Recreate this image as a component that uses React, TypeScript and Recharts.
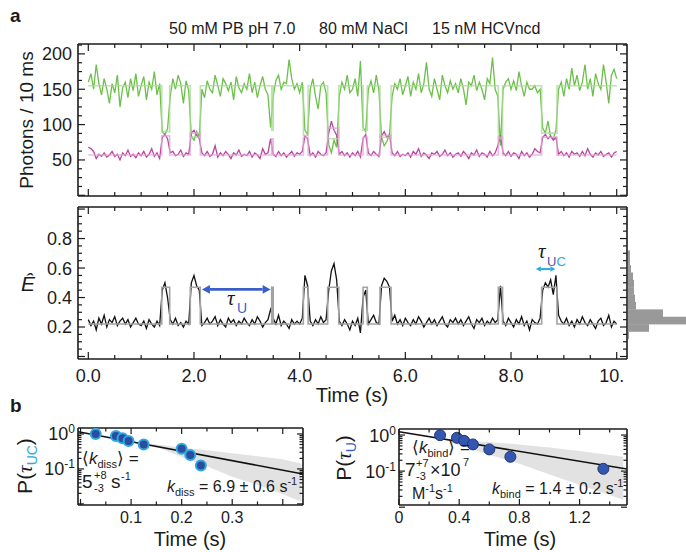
import React from 'react';
import {
  LineChart,
  Line,
  XAxis,
  YAxis,
  ComposedChart,
  Area,
  Scatter,
  BarChart,
  Bar,
  ReferenceLine,
} from 'recharts';

const FONT = '"Liberation Sans", Arial, Helvetica, sans-serif';
const SERIF = '"Liberation Serif", "DejaVu Serif", serif';
const INK = '#1b1b1b';

// ---------- panel a: traces (read every 50 ms) ----------
const DT = 0.05;
const green = [
  160, 172, 150, 185, 158, 142, 165, 150, 130, 158, 145, 170, 125, 152, 160, 138, 165, 148, 172, 140,
  155, 168, 135, 160, 150, 175, 142, 158, 90, 86, 94, 140, 165, 150, 170, 158, 130, 162, 148, 84,
  78, 90, 82, 150, 138, 162, 150, 145, 170, 155, 140, 165, 158, 148, 160, 135, 168, 152, 145, 158,
  150, 172, 145, 160, 138, 155, 168, 150, 142, 96, 140, 162, 170, 150, 160, 158, 192, 165, 150, 158,
  145, 160, 92, 86, 150, 165, 140, 122, 155, 160, 145, 72, 60, 78, 68, 140, 160, 150, 170, 145,
  150, 165, 140, 190, 96, 90, 150, 162, 145, 170, 148, 82, 70, 76, 86, 140, 158, 150, 165, 142,
  155, 168, 140, 160, 150, 172, 145, 158, 188, 150, 140, 165, 150, 135, 170, 155, 145, 162, 150, 158,
  145, 165, 150, 128, 160, 155, 170, 148, 160, 150, 135, 165, 158, 195, 150, 140, 70, 150, 160, 165,
  150, 162, 148, 175, 155, 140, 160, 150, 150, 155, 145, 150, 95, 88, 105, 82, 80, 92, 150, 160,
  140, 165, 150, 180, 155, 170, 148, 160, 185, 150, 165, 140, 172, 158, 150, 185, 160, 130, 170, 178, 165,
];
const magenta = [
  68, 66, 62, 52, 58, 55, 60, 54, 57, 62, 55, 58, 50, 60, 56, 64, 55, 58, 53, 60,
  56, 62, 54, 58, 66, 55, 60, 52, 82, 86, 80, 60, 62, 56, 58, 64, 55, 60, 58, 88,
  92, 85, 80, 60, 56, 62, 55, 58, 70, 54, 60, 56, 62, 58, 52, 60, 57, 64, 55, 58,
  56, 62, 54, 60, 57, 52, 66, 58, 60, 80, 58, 55, 62, 56, 60, 54, 58, 62, 55, 60,
  58, 62, 84, 80, 56, 60, 54, 62, 58, 56, 60, 88, 105, 92, 85, 58, 62, 56, 60, 54,
  60, 56, 62, 54, 80, 86, 60, 56, 62, 58, 55, 84, 90, 82, 86, 60, 56, 62, 55, 58,
  56, 60, 54, 62, 58, 66, 55, 60, 57, 52, 60, 58, 62, 55, 58, 64, 56, 60, 54, 58,
  60, 55, 62, 58, 52, 60, 57, 64, 55, 60, 58, 54, 62, 56, 60, 70, 85, 60, 56, 62,
  55, 60, 58, 52, 62, 56, 60, 54, 58, 66, 62, 60, 82, 86, 80, 84, 78, 82, 58, 62,
  56, 60, 54, 62, 58, 60, 55, 62, 56, 66, 58, 54, 60, 57, 62, 55, 58, 60, 54, 60, 62,
];
const fret = [
  0.25, 0.21, 0.24, 0.18, 0.26, 0.22, 0.28, 0.2, 0.25, 0.23, 0.27, 0.21, 0.24, 0.26, 0.22, 0.25, 0.2, 0.23, 0.26, 0.22,
  0.21, 0.24, 0.19, 0.25, 0.22, 0.2, 0.24, 0.21, 0.45, 0.5, 0.4, 0.25, 0.22, 0.26, 0.21, 0.23, 0.2, 0.24, 0.22, 0.5,
  0.55, 0.48, 0.45, 0.21, 0.23, 0.26, 0.22, 0.24, 0.27, 0.21, 0.25, 0.22, 0.2, 0.26, 0.23, 0.25, 0.21, 0.24, 0.22, 0.26,
  0.23, 0.21, 0.25, 0.22, 0.27, 0.24, 0.2, 0.23, 0.25, 0.32, 0.26, 0.22, 0.28, 0.21, 0.24, 0.22, 0.19, 0.25, 0.22, 0.24,
  0.22, 0.26, 0.55, 0.48, 0.24, 0.21, 0.25, 0.22, 0.27, 0.23, 0.25, 0.45, 0.58, 0.63, 0.52, 0.24, 0.21, 0.25, 0.22, 0.18,
  0.24, 0.21, 0.26, 0.16, 0.4, 0.45, 0.22, 0.25, 0.28, 0.23, 0.22, 0.48, 0.53, 0.51, 0.47, 0.24, 0.28, 0.22, 0.25, 0.21,
  0.26, 0.23, 0.21, 0.25, 0.22, 0.27, 0.24, 0.2, 0.23, 0.26, 0.22, 0.25, 0.21, 0.24, 0.27, 0.22, 0.2, 0.25, 0.23, 0.26,
  0.22, 0.25, 0.21, 0.24, 0.27, 0.22, 0.19, 0.25, 0.23, 0.26, 0.21, 0.24, 0.22, 0.26, 0.23, 0.25, 0.48, 0.24, 0.21, 0.26,
  0.23, 0.2, 0.25, 0.22, 0.27, 0.21, 0.24, 0.18, 0.25, 0.23, 0.22, 0.26, 0.45, 0.5, 0.47, 0.52, 0.42, 0.55, 0.28, 0.24,
  0.22, 0.26, 0.21, 0.24, 0.2, 0.25, 0.22, 0.27, 0.23, 0.21, 0.25, 0.22, 0.19, 0.24, 0.26, 0.21, 0.23, 0.28, 0.2, 0.24, 0.22,
];

// HMM-like state levels
const eventStart = [1.39, 1.93, 3.47, 4.07, 4.53, 5.2, 5.52, 7.76, 8.58];
const eventEnd = [1.54, 2.12, 3.5, 4.16, 4.74, 5.28, 5.73, 7.84, 8.87];
const greenLow = [90, 82, 92, 85, 80, 92, 82, 80, 88];
const magentaHigh = [84, 88, 80, 82, 95, 82, 85, 82, 82];
const fretHigh = [0.47, 0.47, 0.47, 0.47, 0.47, 0.47, 0.47, 0.47, 0.47];
const GREEN_BASE = 155;
const MAG_BASE = 57;
const FRET_BASE = 0.22;

// histogram of E
const histE = [0.145, 0.195, 0.245, 0.295, 0.345, 0.395, 0.445, 0.495, 0.545, 0.595, 0.645, 0.695];
const histN = [1, 21, 75, 35, 8, 7, 6, 6, 5, 3, 2, 2];
const HIST_BIN = 0.05;

// ---------- panel b ----------
const ucT = [0.03, 0.07, 0.083, 0.095, 0.125, 0.2, 0.217, 0.238];
const ucP = [1.0, 0.875, 0.75, 0.625, 0.5, 0.375, 0.25, 0.125];
const ucFitT = [-0.005, 0.44];
const ucFitP = [1.15, 0.072];
const ucBandT = [0.1, 0.15, 0.2, 0.25, 0.3, 0.35, 0.4, 0.437];
const ucBandLo = [0.6, 0.43, 0.22, 0.12, 0.06, 0.035, 0.019, 0.0115];
const ucBandHi = [0.6, 0.5, 0.41, 0.34, 0.28, 0.23, 0.19, 0.14];

const uT = [0.273, 0.385, 0.433, 0.491, 0.6, 0.74, 1.358];
const uP = [0.99, 0.84, 0.69, 0.55, 0.4, 0.25, 0.116];
const uFitT = [0, 1.515];
const uFitP = [1.24, 0.114];
const uBandT = [0.27, 0.5, 0.8, 1.0, 1.2, 1.49];
const uBandLo = [0.81, 0.38, 0.16, 0.08, 0.042, 0.016];
const uBandHi = [0.81, 0.68, 0.55, 0.45, 0.36, 0.25];

// tick labels
const timeTickVals = [0, 2, 4, 6, 8, 10];
const timeTickText = ['0.0', '2.0', '4.0', '6.0', '8.0', '10.'];
const photonTickVals = [50, 100, 150, 200];
const photonTickText = ['50', '100', '150', '200'];
const fretTickVals = [0.2, 0.4, 0.6, 0.8];
const fretTickText = ['0.2', '0.4', '0.6', '0.8'];
const ucTickVals = [0.1, 0.2, 0.3];
const ucTickText = ['0.1', '0.2', '0.3'];
const uTickVals = [0, 0.4, 0.8, 1.2];
const uTickText = ['0', '0.4', '0.8', '1.2'];
const logTickVals = [1, 0.1];
const logTickExp = ['0', '-1'];

// ---------- helpers ----------
const range = (a: number, b: number, step: number) => {
  const out: number[] = [];
  for (let v = a; v <= b + 1e-9; v += step) out.push(Math.round(v * 1e6) / 1e6);
  return out;
};
const near = (arr: number[], v: number) => arr.findIndex((a) => Math.abs(a - v) < 1e-6);

type Side = 'left' | 'right' | 'top' | 'bottom';
type TickOpts = {
  side: Side;
  majors: number[];
  vals?: number[];
  texts?: React.ReactNode[];
  fs?: number;
  gap?: number;
  big?: number;
  small?: number;
};

function makeTick(o: TickOpts) {
  const { side, majors, vals = [], texts = [], fs = 18, gap = 6, big = 7, small = 4 } = o;
  return (props: any) => {
    const { x, y, payload } = props;
    const v = payload.value;
    const len = near(majors, v) >= 0 ? big : small;
    const idx = near(vals, v);
    const label = idx >= 0 ? texts[idx] : null;
    let line: React.ReactNode = null;
    let text: React.ReactNode = null;
    const tp = { fill: INK, stroke: 'none', fontSize: fs, fontFamily: FONT };
    if (side === 'left') {
      line = <line x1={x} y1={y} x2={x + len} y2={y} />;
      if (label != null)
        text = (
          <text {...tp} x={x - gap} y={y} dy="0.36em" textAnchor="end">
            {label}
          </text>
        );
    } else if (side === 'right') {
      line = <line x1={x} y1={y} x2={x - len} y2={y} />;
    } else if (side === 'top') {
      line = <line x1={x} y1={y} x2={x} y2={y + len} />;
    } else {
      line = <line x1={x} y1={y} x2={x} y2={y - len} />;
      if (label != null) {
        const cut = typeof label === 'string' && label.endsWith('.');
        text = (
          <text {...tp} x={cut ? x - fs * 0.973 : x} y={y + gap} textAnchor={cut ? 'start' : 'middle'}>
            {label}
          </text>
        );
      }
    }
    return (
      <g stroke={INK} strokeWidth={1.2}>
        {line}
        {text}
      </g>
    );
  };
}

const axisLine = { stroke: INK, strokeWidth: 1.6 };
const noTick = { tickLine: false, tickSize: 0, tickMargin: 0, interval: 0 as const, allowDataOverflow: true };

function Arrow(props: any) {
  const { x1, y1, x2, color, head, width } = props;
  const y = y1;
  const hw = head * 0.55;
  return (
    <g>
      <line x1={x1 + head} y1={y} x2={x2 - head} y2={y} stroke={color} strokeWidth={width} />
      <polygon points={`${x1},${y} ${x1 + head},${y - hw} ${x1 + head},${y + hw}`} fill={color} />
      <polygon points={`${x2},${y} ${x2 - head},${y - hw} ${x2 - head},${y + hw}`} fill={color} />
    </g>
  );
}

function stepRows(base: number, levels: number[]) {
  const rows = [{ t: 0, v: base }];
  eventStart.forEach((s, i) => {
    rows.push({ t: s, v: levels[i] });
    rows.push({ t: eventEnd[i], v: base });
  });
  rows.push({ t: 10, v: base });
  return rows;
}

// ---------- derived tables ----------
const traceRows = green.map((g, i) => ({ t: i * DT, g, m: magenta[i], e: fret[i] }));
const greenSteps = stepRows(GREEN_BASE, greenLow);
const magSteps = stepRows(MAG_BASE, magentaHigh);
const fretSteps = stepRows(FRET_BASE, fretHigh);
const histRows = histE.map((e, i) => ({ e, n: histN[i] }));

const ucPts = ucT.map((t, i) => ({ t, p: ucP[i] }));
const ucFit = ucFitT.map((t, i) => ({ t, p: ucFitP[i] }));
const ucBand = ucBandT.map((t, i) => ({ t, band: [ucBandLo[i], ucBandHi[i]] }));
const uPts = uT.map((t, i) => ({ t, p: uP[i] }));
const uFit = uFitT.map((t, i) => ({ t, p: uFitP[i] }));
const uBand = uBandT.map((t, i) => ({ t, band: [uBandLo[i], uBandHi[i]] }));

const T_DOM: [number, number] = [-0.195, 10.195];
const PH_DOM: [number, number] = [-1, 214];
const E_DOM: [number, number] = [-0.017, 1.014];
const E_PLOT_H = 152; // px height of the E plot area
const HIST_BAR_PX = (HIST_BIN / (E_DOM[1] - E_DOM[0])) * E_PLOT_H;
const timeTicks = range(0, 10, 0.5);
const timeMajors = range(0, 10, 2);
const photonTicks = range(0, 212.5, 12.5);
const photonMajors = range(0, 200, 50);
const fretTicks = range(0, 1, 0.05);
const fretMajors = range(0, 1, 0.2);
const logTicks = [...range(0.01, 0.09, 0.01), ...range(0.1, 0.9, 0.1), 1];
const logMajors = [0.01, 0.1, 1];
const logTexts = logTickExp.map((ex) => (
  <>
    10
    <tspan dy={-7} fontSize={12}>
      {ex}
    </tspan>
  </>
));

const abs = (left: number, top: number): React.CSSProperties => ({ position: 'absolute', left, top });

export default function App() {
  return (
    <div
      style={{
        position: 'absolute',
        left: 0,
        top: 0,
        width: 686,
        height: 552,
        overflow: 'hidden',
        background: '#fff',
        fontFamily: FONT,
      }}
    >
      {/* a: photon counts */}
      <div style={abs(0, 0)}>
        <LineChart width={686} height={200} data={traceRows} margin={{ top: 0, right: 0, bottom: 0, left: 0 }}>
          <XAxis dataKey="t" type="number" domain={T_DOM} ticks={timeTicks} height={4} axisLine={axisLine}
            tick={makeTick({ side: 'bottom', majors: timeMajors })} {...noTick} />
          <XAxis xAxisId="top" orientation="top" dataKey="t" type="number" domain={T_DOM} ticks={timeTicks} height={44}
            axisLine={axisLine} tick={makeTick({ side: 'top', majors: timeMajors })} {...noTick} />
          <YAxis type="number" domain={PH_DOM} ticks={photonTicks} width={78} axisLine={axisLine}
            tick={makeTick({ side: 'left', majors: photonMajors, vals: photonTickVals, texts: photonTickText, fs: 18, gap: 6 })}
            {...noTick} />
          <YAxis yAxisId="right" orientation="right" type="number" domain={PH_DOM} ticks={photonTicks} width={59}
            axisLine={axisLine} tick={makeTick({ side: 'right', majors: photonMajors })} {...noTick} />
          <Line dataKey="g" stroke="#6cc04a" strokeWidth={1.3} dot={false} activeDot={false} isAnimationActive={false} />
          <Line dataKey="m" stroke="#b6479f" strokeWidth={1.3} dot={false} activeDot={false} isAnimationActive={false} />
          <Line data={greenSteps} dataKey="v" type="stepAfter" stroke="#a9d995" strokeOpacity={0.75} strokeWidth={1.6}
            dot={false} activeDot={false} isAnimationActive={false} />
          <Line data={magSteps} dataKey="v" type="stepAfter" stroke="#e3a3d7" strokeOpacity={0.75} strokeWidth={1.6}
            dot={false} activeDot={false} isAnimationActive={false} />
        </LineChart>
      </div>

      {/* a: FRET efficiency */}
      <div style={abs(0, 200)}>
        <LineChart width={686} height={200} data={traceRows} margin={{ top: 0, right: 0, bottom: 0, left: 0 }}>
          <XAxis dataKey="t" type="number" domain={T_DOM} ticks={timeTicks} height={41} axisLine={axisLine}
            tick={makeTick({ side: 'bottom', majors: timeMajors, vals: timeTickVals, texts: timeTickText, fs: 18, gap: 23 })}
            {...noTick} />
          <XAxis xAxisId="top" orientation="top" dataKey="t" type="number" domain={T_DOM} ticks={timeTicks} height={7}
            axisLine={axisLine} tick={makeTick({ side: 'top', majors: timeMajors })} {...noTick} />
          <YAxis type="number" domain={E_DOM} ticks={fretTicks} width={78} axisLine={axisLine}
            tick={makeTick({ side: 'left', majors: fretMajors, vals: fretTickVals, texts: fretTickText, fs: 18, gap: 6 })}
            {...noTick} />
          <YAxis yAxisId="right" orientation="right" type="number" domain={E_DOM} ticks={fretTicks} width={59}
            axisLine={axisLine} tick={makeTick({ side: 'right', majors: fretMajors })} {...noTick} />
          <Line dataKey="e" stroke="#111" strokeWidth={1.3} dot={false} activeDot={false} isAnimationActive={false} />
          <Line data={fretSteps} dataKey="v" type="stepAfter" stroke="#a3a3a3" strokeWidth={1.6}
            dot={false} activeDot={false} isAnimationActive={false} />
          <ReferenceLine segment={[{ x: 2.15, y: 0.455 }, { x: 3.45, y: 0.455 }]}
            shape={(p: any) => <Arrow {...p} color="#3b5fc9" head={8} width={2.6} />} />
          <ReferenceLine segment={[{ x: 8.47, y: 0.593 }, { x: 8.84, y: 0.593 }]}
            shape={(p: any) => <Arrow {...p} color="#2ea9e0" head={5} width={2} />} />
        </LineChart>
      </div>

      {/* a: E histogram */}
      <div style={abs(627, 200)}>
        <BarChart width={80} height={200} data={histRows} layout="vertical"
          margin={{ top: 7, right: 0, bottom: 41, left: 1 }}>
          <XAxis type="number" hide domain={[0, 79]} allowDataOverflow />
          <YAxis type="number" dataKey="e" hide reversed domain={E_DOM} allowDataOverflow />
          <Bar dataKey="n" fill="#999999" isAnimationActive={false}
            shape={(p: any) => (
              <rect x={p.x} y={p.y + p.height / 2 - HIST_BAR_PX / 2} width={p.width} height={HIST_BAR_PX + 0.3}
                fill="#999999" />
            )} />
        </BarChart>
      </div>

      {/* b: dwell times in UC */}
      <div style={abs(0, 400)}>
        <ComposedChart width={340} height={152} margin={{ top: 0, right: 0, bottom: 0, left: 0 }}>
          <XAxis dataKey="t" type="number" domain={[-0.005, 0.44]} ticks={range(0, 0.4, 0.05)} height={47}
            axisLine={axisLine}
            tick={makeTick({ side: 'bottom', majors: range(0, 0.4, 0.1), vals: ucTickVals, texts: ucTickText, fs: 16, gap: 18, big: 6, small: 3.5 })}
            {...noTick} />
          <XAxis xAxisId="top" orientation="top" dataKey="t" type="number" domain={[-0.005, 0.44]}
            ticks={range(0, 0.4, 0.05)} height={28} axisLine={axisLine}
            tick={makeTick({ side: 'top', majors: range(0, 0.4, 0.1), big: 6, small: 3.5 })} {...noTick} />
          <YAxis type="number" scale="log" domain={[0.0093, 1.48]} ticks={logTicks} width={78} axisLine={axisLine}
            tick={makeTick({ side: 'left', majors: logMajors, vals: logTickVals, texts: logTexts, fs: 18, gap: 3, big: 6, small: 3.5 })}
            {...noTick} />
          <YAxis yAxisId="right" orientation="right" type="number" scale="log" domain={[0.0093, 1.48]} ticks={logTicks}
            width={37} axisLine={axisLine}
            tick={makeTick({ side: 'right', majors: logMajors, big: 6, small: 3.5 })} {...noTick} />
          <Area data={ucBand} dataKey="band" type="linear" stroke="none" fill="#e2e2e2" fillOpacity={1}
            isAnimationActive={false} activeDot={false} />
          <Line data={ucFit} dataKey="p" stroke="#111" strokeWidth={1.5} dot={false} activeDot={false}
            isAnimationActive={false} />
          <Scatter data={ucPts} dataKey="p" isAnimationActive={false}
            shape={(p: any) => <circle cx={p.cx} cy={p.cy} r={5} fill="#2b4c9f" stroke="#2ea9e0" strokeWidth={2} />} />
        </ComposedChart>
      </div>

      {/* b: dwell times in U */}
      <div style={abs(340, 400)}>
        <ComposedChart width={346} height={152} margin={{ top: 0, right: 0, bottom: 0, left: 0 }}>
          <XAxis dataKey="t" type="number" domain={[0, 1.515]} ticks={range(0, 1.4, 0.2)} height={47}
            axisLine={axisLine}
            tick={makeTick({ side: 'bottom', majors: uTickVals, vals: uTickVals, texts: uTickText, fs: 16, gap: 18, big: 6, small: 3.5 })}
            {...noTick} />
          <XAxis xAxisId="top" orientation="top" dataKey="t" type="number" domain={[0, 1.515]}
            ticks={range(0, 1.4, 0.2)} height={29} axisLine={axisLine}
            tick={makeTick({ side: 'top', majors: uTickVals, big: 6, small: 3.5 })} {...noTick} />
          <YAxis type="number" scale="log" domain={[0.0115, 1.47]} ticks={logTicks} width={59} axisLine={axisLine}
            tick={makeTick({ side: 'left', majors: logMajors, vals: logTickVals, texts: logTexts, fs: 18, gap: 3, big: 6, small: 3.5 })}
            {...noTick} />
          <YAxis yAxisId="right" orientation="right" type="number" scale="log" domain={[0.0115, 1.47]} ticks={logTicks}
            width={59} axisLine={axisLine}
            tick={makeTick({ side: 'right', majors: logMajors, big: 6, small: 3.5 })} {...noTick} />
          <Area data={uBand} dataKey="band" type="linear" stroke="none" fill="#e2e2e2" fillOpacity={1}
            isAnimationActive={false} activeDot={false} />
          <Line data={uFit} dataKey="p" stroke="#111" strokeWidth={1.5} dot={false} activeDot={false}
            isAnimationActive={false} />
          <Scatter data={uPts} dataKey="p" isAnimationActive={false}
            shape={(p: any) => <circle cx={p.cx} cy={p.cy} r={5.5} fill="#3556b0" stroke="#22376f" strokeWidth={1} />} />
        </ComposedChart>
      </div>

      {/* text layer */}
      <svg width={686} height={552} style={{ position: 'absolute', left: 0, top: 0, pointerEvents: 'none' }}
        fontFamily={FONT} fill={INK}>
        <text x={10} y={22} fontSize={19} fontWeight="bold">a</text>
        <text x={10} y={412} fontSize={19} fontWeight="bold">b</text>
        <text x={169} y={34} fontSize={16}>50 mM PB pH 7.0</text>
        <text x={319} y={34} fontSize={16}>80 mM NaCl</text>
        <text x={432} y={34} fontSize={16}>15 nM HCVncd</text>

        <text transform="translate(33,120) rotate(-90)" textAnchor="middle" fontSize={19}>Photons / 10 ms</text>
        <text x={28} y={291} textAnchor="middle" fontSize={21} fontStyle="italic">Ê</text>
        <text x={352} y={402} textAnchor="middle" fontSize={20}>Time (s)</text>

        <text x={227} y={305} fontSize={21} fontStyle="italic" fontFamily={SERIF}>τ</text>
        <text x={237} y={313} fontSize={14} fill="#3b5fc9">U</text>
        <text x={538} y={258} fontSize={21} fontStyle="italic" fontFamily={SERIF}>τ</text>
        <text x={547} y={266} fontSize={13}>
          <tspan fill="#5553b0">U</tspan>
          <tspan fill="#2ea9e0">C</tspan>
        </text>

        {/* b left */}
        <text transform="translate(32,466) rotate(-90)" textAnchor="middle" fontSize={21}>
          P(<tspan fontFamily={SERIF} fontStyle="italic">τ</tspan>
          <tspan dy={5} fontSize={14} fill="#2ea9e0">UC</tspan>
          <tspan dy={-5}>)</tspan>
        </text>
        <text x={190} y={546} textAnchor="middle" fontSize={20}>Time (s)</text>
        <text x={82} y={464} fontSize={17}>
          ⟨<tspan fontStyle="italic">k</tspan>
          <tspan dy={4} fontSize={11}>diss</tspan>
          <tspan dy={-4}>⟩ =</tspan>
        </text>
        <text x={82} y={488} fontSize={19}>5</text>
        <text x={94} y={479} fontSize={11}>+8</text>
        <text x={94} y={492} fontSize={11}>-3</text>
        <text x={111} y={488} fontSize={19}>s</text>
        <text x={121} y={480} fontSize={11}>-1</text>
        <text x={167} y={492} fontSize={16}>
          <tspan fontStyle="italic">k</tspan>
          <tspan dy={4} fontSize={11}>diss</tspan>
          <tspan dy={-4}> = 6.9 ± 0.6 s</tspan>
          <tspan dy={-7} fontSize={11}>-1</tspan>
        </text>

        {/* b right */}
        <text transform="translate(351,458) rotate(-90)" textAnchor="middle" fontSize={21}>
          P(<tspan fontFamily={SERIF} fontStyle="italic">τ</tspan>
          <tspan dy={5} fontSize={14} fill="#3b5fc9">U</tspan>
          <tspan dy={-5}>)</tspan>
        </text>
        <text x={520} y={546} textAnchor="middle" fontSize={20}>Time (s)</text>
        <text x={412} y={453} fontSize={17}>
          ⟨<tspan fontStyle="italic">k</tspan>
          <tspan dy={4} fontSize={11}>bind</tspan>
          <tspan dy={-4}>⟩ =</tspan>
        </text>
        <text x={405} y={476} fontSize={19}>7</text>
        <text x={416} y={467} fontSize={11}>+7</text>
        <text x={416} y={480} fontSize={11}>-3</text>
        <text x={430} y={476} fontSize={18}>×10</text>
        <text x={463} y={466} fontSize={11}>7</text>
        <text x={412} y={499} fontSize={16}>
          M<tspan dy={-7} fontSize={11}>-1</tspan>
          <tspan dy={7}>s</tspan>
          <tspan dy={-7} fontSize={11}>-1</tspan>
        </text>
        <text x={492} y={494} fontSize={16}>
          <tspan fontStyle="italic">k</tspan>
          <tspan dy={4} fontSize={11}>bind</tspan>
          <tspan dy={-4}> = 1.4 ± 0.2 s</tspan>
          <tspan dy={-7} fontSize={11}>-1</tspan>
        </text>
      </svg>
    </div>
  );
}
